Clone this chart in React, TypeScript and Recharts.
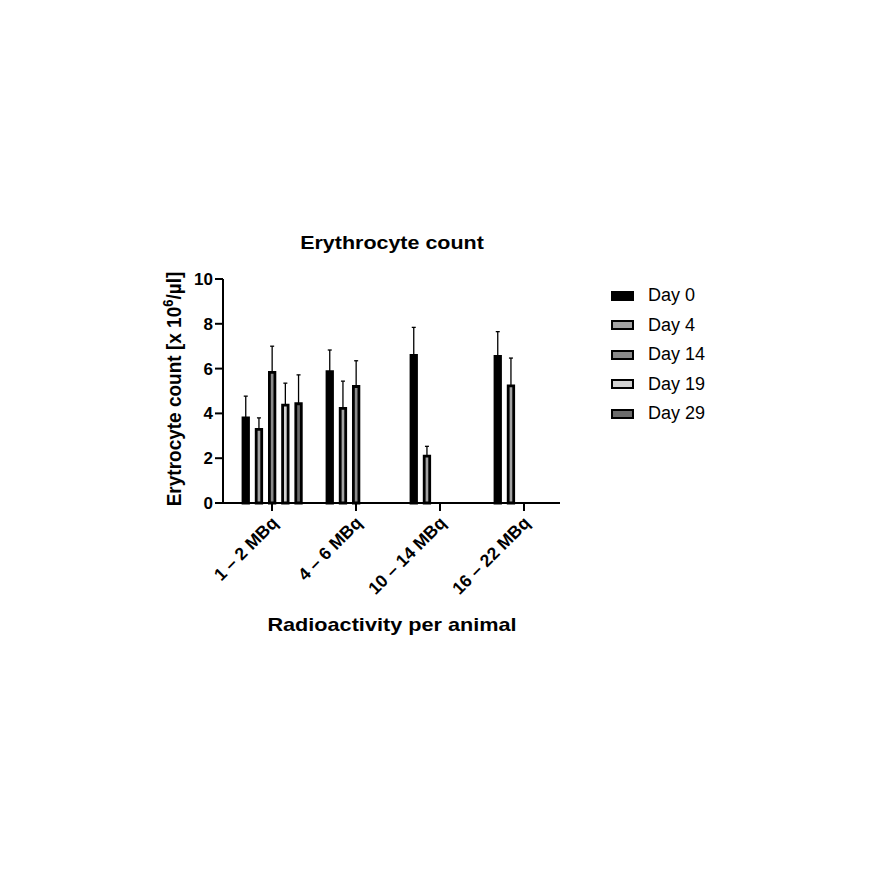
import React from 'react'
import { BarChart, Bar, XAxis, YAxis, ErrorBar } from 'recharts'

// groups on the x axis
const categories = ['1 – 2 MBq', '4 – 6 MBq', '10 – 14 MBq', '16 – 22 MBq']

// means per day (x 10^6/µl), null = not measured
const day0 = [3.8, 5.86, 6.59, 6.54]
const day4 = [3.29, 4.22, 2.09, 5.23]
const day14 = [5.83, 5.2, null, null]
const day19 = [4.37, null, null, null]
const day29 = [4.43, null, null, null]

// upper error (SD) per day
const day0Err = [0.97, 0.97, 1.25, 1.11]
const day4Err = [0.51, 1.22, 0.44, 1.24]
const day14Err = [1.17, 1.15, null, null]
const day19Err = [0.98, null, null, null]
const day29Err = [1.29, null, null, null]

const yTicks = [0, 2, 4, 6, 8, 10]

const series = [
  { key: 'd0', name: 'Day 0', values: day0, errs: day0Err, fill: '#000000' },
  { key: 'd4', name: 'Day 4', values: day4, errs: day4Err, fill: '#a3a3a3' },
  { key: 'd14', name: 'Day 14', values: day14, errs: day14Err, fill: '#8a8a8a' },
  { key: 'd19', name: 'Day 19', values: day19, errs: day19Err, fill: '#d2d2d2' },
  { key: 'd29', name: 'Day 29', values: day29, errs: day29Err, fill: '#6c6c6c' },
]

const data = categories.map((cat, i) => {
  const row: any = { cat }
  series.forEach((s) => {
    row[s.key] = s.values[i]
    row[s.key + 'Err'] = s.errs[i] == null ? null : [0, s.errs[i]]
  })
  return row
})

const font = '"Liberation Sans", Arial, Helvetica, sans-serif'

const XTick = ({ x, y, payload }: any) => {
  const tx = x + 7
  const ty = y + 11
  return (
    <text
      x={tx}
      y={ty}
      transform={`rotate(-45, ${tx}, ${ty})`}
      textAnchor="end"
      fontSize={17.5}
      fontWeight="bold"
      fontFamily={font}
      fill="#000"
    >
      {payload.value}
    </text>
  )
}

export default function App() {
  return (
    <div
      style={{
        position: 'absolute',
        left: 0,
        top: 0,
        width: 870,
        height: 870,
        background: '#fff',
        fontFamily: font,
      }}
    >
      <BarChart
        width={870}
        height={870}
        data={data}
        margin={{ top: 279, right: 310, bottom: 337, left: 163 }}
        barSize={5.5}
        barGap={7.7}
      >
        <XAxis
          dataKey="cat"
          interval={0}
          height={30}
          padding={{ left: 7, right: -6 }}
          tickSize={8}
          tickLine={{ stroke: '#000', strokeWidth: 2 }}
          axisLine={{ stroke: '#000', strokeWidth: 2 }}
          tick={<XTick />}
        />
        <YAxis
          width={60}
          domain={[0, 10]}
          ticks={yTicks}
          interval={0}
          tickSize={8}
          tickLine={{ stroke: '#000', strokeWidth: 2 }}
          axisLine={{ stroke: '#000', strokeWidth: 2 }}
          tick={{ fontSize: 17, fontWeight: 'bold', fill: '#000', fontFamily: font }}
        />
        {series.map((s) => (
          <Bar
            key={s.key}
            dataKey={s.key}
            name={s.name}
            fill={s.fill}
            stroke="#000"
            strokeWidth={2.8}
            isAnimationActive={false}
          >
            <ErrorBar
              dataKey={s.key + 'Err'}
              width={2}
              stroke="#000"
              strokeWidth={1.3}
              direction="y"
              isAnimationActive={false}
            />
          </Bar>
        ))}
      </BarChart>

      {/* title */}
      <div
        style={{
          position: 'absolute',
          left: 0,
          width: 784,
          top: 232,
          textAlign: 'center',
          fontSize: 18.5,
          fontWeight: 'bold',
          lineHeight: '22px',
          transform: 'scaleX(1.16)',
        }}
      >
        Erythrocyte count
      </div>

      {/* y axis title */}
      <div
        style={{
          position: 'absolute',
          left: 174 - 150,
          top: 389 - 12,
          width: 300,
          height: 24,
          lineHeight: '24px',
          textAlign: 'center',
          fontSize: 19,
          fontWeight: 'bold',
          transform: 'scaleX(1.1) rotate(-90deg)',
          whiteSpace: 'nowrap',
        }}
      >
        Erytrocyte count [x 10<sup style={{ fontSize: 13, lineHeight: 0 }}>6</sup>/µl]
      </div>

      {/* x axis title */}
      <div
        style={{
          position: 'absolute',
          left: 0,
          width: 784,
          top: 612,
          textAlign: 'center',
          fontSize: 19,
          fontWeight: 'bold',
          lineHeight: '26px',
          transform: 'scaleX(1.14)',
        }}
      >
        Radioactivity per animal
      </div>

      {/* legend */}
      <div style={{ position: 'absolute', left: 611, top: 281 }}>
        {series.map((s) => (
          <div
            key={s.key}
            style={{ display: 'flex', alignItems: 'center', height: 29.5 }}
          >
            <div
              style={{
                width: 19,
                height: 6,
                border: '2.5px solid #000',
                background: s.fill,
                marginRight: 14,
              }}
            />
            <span style={{ fontSize: 18, color: '#000' }}>{s.name}</span>
          </div>
        ))}
      </div>
    </div>
  )
}
